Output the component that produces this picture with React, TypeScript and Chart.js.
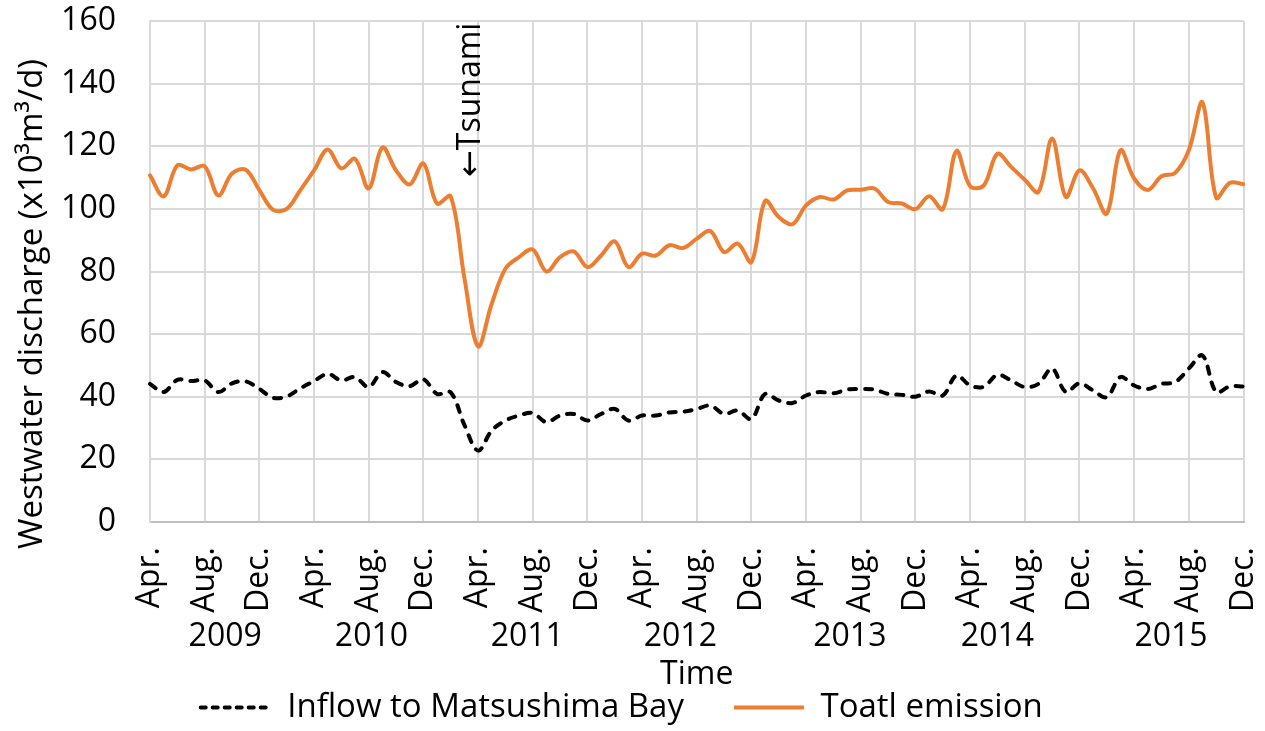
import React, { useEffect, useRef } from "react";
import { Chart, registerables } from "chart.js";

Chart.register(...registerables);

// ---- categories: monthly, Apr. 2009 .. Dec. 2015 ----
const monthAbbr = ["Jan.", "Feb.", "Mar.", "Apr.", "May", "Jun.", "Jul.", "Aug.", "Sep.", "Oct.", "Nov.", "Dec."];
const firstYear = 2009;
const firstMonth = 3; // April
const monthCount = 81;
const categories: string[] = Array.from({ length: monthCount }, (_, i) => {
  const m = (firstMonth + i) % 12;
  const y = firstYear + Math.floor((firstMonth + i) / 12);
  return `${monthAbbr[m]} ${y}`;
});
const tickLabelEvery = 4; // Apr., Aug., Dec.

// ---- year group labels (second level of the category axis) ----
const yearLabels = ["2009", "2010", "2011", "2012", "2013", "2014", "2015"];
const yearLabelAnchors = [5.5, 16.2, 27.6, 38.8, 51.2, 62.0, 74.7]; // in month-index units

// ---- series ----
const inflowMatsushima = [
  44.1, 41.5, 45.4, 45.0, 45.2, 41.5, 44.3, 44.9, 42.5, 39.7,
  40.1, 42.7, 45.0, 47.3, 45.2, 46.3, 43.1, 47.9, 44.7, 43.4,
  45.6, 40.9, 41.4, 31.0, 22.8, 29.2, 32.4, 34.0, 34.8, 31.9,
  34.0, 34.5, 32.4, 34.5, 36.1, 32.4, 34.0, 34.0, 35.0, 35.2,
  36.1, 37.2, 34.5, 35.6, 32.9, 40.9, 38.8, 38.0, 40.4, 41.5,
  41.1, 42.3, 42.5, 42.3, 40.9, 40.6, 40.0, 41.7, 40.4, 46.8,
  43.6, 43.2, 47.0, 45.2, 43.1, 44.1, 49.0, 41.5, 44.3, 42.0,
  39.9, 46.3, 43.6, 42.5, 44.1, 44.7, 49.0, 53.2, 41.5, 43.3,
  43.3,
];
const totalEmission = [
  110.7, 104.0, 113.9, 112.6, 113.6, 104.3, 111.3, 112.5, 106.0, 99.7,
  100.0, 106.0, 112.3, 119.0, 112.9, 116.0, 106.5, 119.6, 112.3, 107.8,
  114.5, 101.7, 104.0, 78.0, 56.1, 69.7, 80.9, 84.6, 87.0, 80.0,
  84.6, 86.4, 81.4, 85.1, 89.6, 81.4, 85.7, 85.1, 88.4, 87.5,
  90.5, 92.9, 86.2, 88.9, 83.0, 102.5, 97.4, 95.1, 101.1, 103.8,
  103.0, 105.9, 106.1, 106.5, 102.2, 101.7, 99.9, 104.0, 99.9, 118.5,
  107.2, 107.5, 117.6, 113.4, 109.3, 105.4, 122.5, 103.8, 112.3, 106.5,
  98.5, 118.7, 109.7, 106.0, 110.4, 111.5, 118.7, 134.0, 103.6, 108.3,
  107.9,
];

// ---- annotation ----
const tsunamiText = "\u2190Tsunami";
const tsunamiAnchor = 23.5; // between Mar. and Apr. 2011

const yAxisTitle = "Westwater discharge (x10\u00B3m\u00B3/d)";
const xAxisTitle = "Time";

const FONT = '"Open Sans", "DejaVu Sans", sans-serif';
const GRID = "#d9d9d9";

const extraText = {
  id: "extraText",
  afterDraw(chart: any) {
    const { ctx, chartArea, scales } = chart;
    const x = scales.x;
    ctx.save();
    ctx.fillStyle = "#000";
    ctx.textAlign = "center";
    ctx.textBaseline = "middle";
    ctx.font = `32px ${FONT}`;
    yearLabels.forEach((t, k) => {
      ctx.fillText(t, x.getPixelForValue(yearLabelAnchors[k]), 637);
    });
    ctx.fillText(xAxisTitle, (chartArea.left + chartArea.right) / 2, 675);

    ctx.save();
    ctx.translate(33, 304);
    ctx.rotate(-Math.PI / 2);
    ctx.font = `33px ${FONT}`;
    ctx.fillText(yAxisTitle, 0, 0);
    ctx.restore();

    ctx.save();
    ctx.translate(x.getPixelForValue(tsunamiAnchor), 177);
    ctx.rotate(-Math.PI / 2);
    ctx.textAlign = "left";
    ctx.font = `32px ${FONT}`;
    ctx.fillText(tsunamiText, 0, 0);
    ctx.restore();

    ctx.restore();
  },
};

export default function App() {
  const ref = useRef<HTMLCanvasElement | null>(null);

  useEffect(() => {
    if (!ref.current) return;
    Chart.defaults.font.family = FONT;
    const chart = new Chart(ref.current, {
      type: "line",
      data: {
        labels: categories,
        datasets: [
          {
            label: "Inflow to Matsushima Bay",
            data: inflowMatsushima,
            borderColor: "#000000",
            backgroundColor: "#000000",
            borderWidth: 4,
            borderDash: [7, 9],
            borderCapStyle: "round",
            pointRadius: 0,
            tension: 0.35,
            fill: false,
          },
          {
            label: "Toatl emission",
            data: totalEmission,
            borderColor: "#ED7D31",
            backgroundColor: "#ED7D31",
            borderWidth: 4,
            borderCapStyle: "round",
            pointRadius: 0,
            tension: 0.35,
            fill: false,
          },
        ],
      },
      options: {
        animation: false,
        responsive: true,
        maintainAspectRatio: false,
        events: [],
        layout: { padding: { left: 0, right: 21.5, top: 21, bottom: -3 } },
        plugins: {
          tooltip: { enabled: false },
          title: { display: false },
          legend: {
            position: "bottom",
            labels: {
              usePointStyle: true,
              pointStyle: "line",
              pointStyleWidth: 70,
              padding: 50,
              color: "#000",
              font: { family: FONT, size: 33 },
              generateLabels: (ch: any) => {
                const items = Chart.defaults.plugins.legend.labels.generateLabels(ch);
                return items.map((it: any) => {
                  const ds: any = ch.data.datasets[it.datasetIndex];
                  return {
                    ...it,
                    pointStyle: "line",
                    lineDash: ds.borderDash ? [5, 7] : [],
                    lineCap: ds.borderDash ? "round" : "butt",
                    lineWidth: 4,
                    strokeStyle: ds.borderColor,
                    fillStyle: ds.borderColor,
                  };
                });
              },
            },
          },
        },
        scales: {
          x: {
            type: "category",
            offset: false,
            grid: {
              color: (c: any) => (c.index % tickLabelEvery === 0 ? GRID : "rgba(0,0,0,0)"),
              lineWidth: 2,
              drawTicks: false,
            },
            border: { display: true, color: "#bfbfbf", width: 2 },
            ticks: {
              autoSkip: false,
              maxRotation: 90,
              minRotation: 90,
              padding: 25,
              color: "#000",
              font: { family: FONT, size: 32 },
              callback: (_v: any, i: number) =>
                i % tickLabelEvery === 0 ? categories[i].split(" ")[0] : "",
            },
            afterFit: (s: any) => {
              s.height = 119;
              s.paddingLeft = 0;
              s.paddingRight = 0;
            },
          },
          y: {
            min: 0,
            max: 160,
            ticks: {
              stepSize: 20,
              padding: 34,
              color: "#000",
              font: { family: FONT, size: 32 },
            },
            grid: {
              color: (c: any) => (c.tick && c.tick.value === 0 ? "#bfbfbf" : GRID),
              lineWidth: 2,
              drawTicks: false,
            },
            border: { display: true, color: GRID, width: 2 },
            afterFit: (s: any) => {
              s.width = 150;
              s.paddingTop = 0;
              s.paddingBottom = 0;
            },
          },
        },
      },
      plugins: [extraText],
    });
    return () => chart.destroy();
  }, []);

  return (
    <div style={{ position: "absolute", left: 0, top: 0, width: 1265, height: 731, background: "#fff" }}>
      <canvas ref={ref} />
    </div>
  );
}
